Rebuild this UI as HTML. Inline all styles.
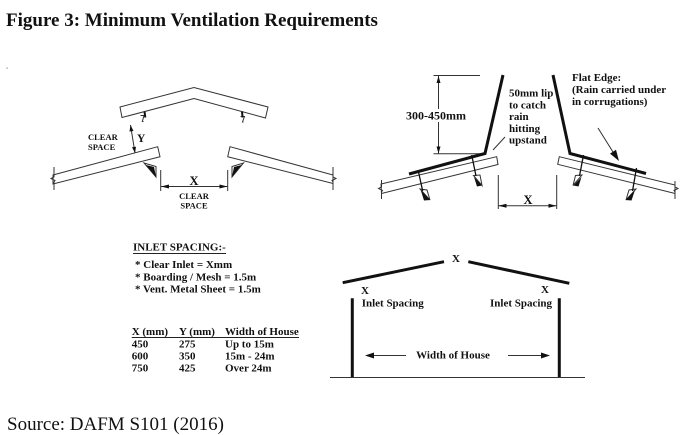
<!DOCTYPE html>
<html>
<head>
<meta charset="utf-8">
<style>
  html, body { margin: 0; padding: 0; background: #fff; }
  svg { display: block; }
  text { font-family: "Liberation Serif", "DejaVu Serif", serif; fill: #111; }
  .b { font-weight: bold; }
</style>
</head>
<body>
<svg width="684" height="435" viewBox="0 0 684 435" xmlns="http://www.w3.org/2000/svg">
  <rect width="684" height="435" fill="#fff"/>

  <!-- Title -->
  <text x="6" y="26" font-size="19" class="b">Figure 3: Minimum Ventilation Requirements</text>
  <rect x="6.5" y="67.5" width="1.2" height="1.2" fill="#888"/>

  <!-- ===== LEFT DIAGRAM ===== -->
  <g stroke="#333" stroke-width="1" fill="none">
    <polygon points="120,107 194,87.5 268,107 265.5,118 194,98.5 122,117.5" fill="#fff"/>
    <polygon points="53,175 157.7,146.7 160,156.7 53,184"/>
    <path d="M54,167 V177 l-3,1.5 l4,2 l-1,1.5 V190"/>
    <polygon points="230,146.7 333,175 333,183.5 227.7,156.7"/>
    <path d="M333,167 V177 l3,1.5 l-4,2 l1,1.5 V190"/>
    <line x1="160.7" y1="170" x2="160.7" y2="191"/>
    <line x1="227.7" y1="170" x2="227.7" y2="191"/>
    <line x1="161" y1="186.5" x2="227.5" y2="186.5"/>
    <line x1="130.5" y1="125" x2="135" y2="153"/>
    <polygon points="144,163 156,166.5 156,177"/>
    <polygon points="243.5,163 232,166.5 232,177"/>
    <path d="M140.5,115.5 H144 L142.3,121.5 H143.5" stroke-width="1"/>
    <path d="M240.5,116.5 H244.5 L242.5,122 H243.5" stroke-width="1"/>
  </g>
  <g stroke="#111" stroke-width="2" fill="none">
    <line x1="144.5" y1="111.5" x2="145.3" y2="117.5"/>
    <line x1="242" y1="111.5" x2="242.6" y2="117.5"/>
  </g>
  <g fill="#111">
    <polygon points="146,165 156,177 154,167"/>
    <polygon points="241.5,165 232,177 234,167"/>
    <polygon points="161,186.5 169,184.5 169,188.5"/>
    <polygon points="227.5,186.5 219.5,184.5 219.5,188.5"/>
    <polygon points="130.5,125 133.5,131 129.5,131.5"/>
    <polygon points="135,153 136,146.7 132,147.3"/>
  </g>
  <text x="194" y="185" font-size="12.5" class="b" text-anchor="middle">X</text>
  <text x="194" y="199" font-size="8.5" class="b" text-anchor="middle">CLEAR</text>
  <text x="194" y="208.5" font-size="8.5" class="b" text-anchor="middle">SPACE</text>
  <text x="137" y="142" font-size="11.5" class="b">Y</text>
  <text x="88" y="140" font-size="8.5" class="b">CLEAR</text>
  <text x="88" y="150" font-size="8.5" class="b">SPACE</text>

  <!-- ===== RIGHT DIAGRAM ===== -->
  <g stroke="#333" stroke-width="1" fill="none">
    <polygon points="381,184 496.7,156.7 498,164.5 381.5,193.5"/>
    <path d="M381.5,180 V187 l-3,1.5 l4,2 l-1,1.5 V199"/>
    <polygon points="559.3,156.7 675,185 675,193.5 557.7,164.3"/>
    <path d="M675,181 V187 l3,1.5 l-4,2 l1,1.5 V199"/>
    <line x1="433.5" y1="75.5" x2="480" y2="75.5"/>
    <line x1="433.5" y1="153.8" x2="483" y2="153.8"/>
    <line x1="438.5" y1="76" x2="438.5" y2="153.5"/>
    <line x1="498.3" y1="175" x2="498.3" y2="209"/>
    <line x1="556.7" y1="175" x2="556.7" y2="209"/>
    <line x1="498.5" y1="205.7" x2="556.5" y2="205.7"/>
    <line x1="505" y1="137" x2="493" y2="150"/>
    <line x1="598" y1="128" x2="613" y2="152"/>
    <polygon points="420,189 427,190 430,200"/>
    <polygon points="473.5,175.5 480,175 482,185.5"/>
    <polygon points="582,175 575.5,175.5 573,185.5"/>
    <polygon points="636,189 629,190 626,200"/>
  </g>
  <g stroke="#111" stroke-width="1.3" fill="none">
    <line x1="418.3" y1="171" x2="422.7" y2="191"/>
    <line x1="471.7" y1="155" x2="476" y2="176"/>
    <line x1="583.5" y1="155" x2="579.5" y2="176"/>
    <line x1="636.5" y1="168" x2="632.5" y2="191"/>
  </g>
  <g stroke="#111" stroke-width="3" fill="none" stroke-linejoin="miter">
    <polyline points="503,75 485,153.5 409,174"/>
    <polyline points="553,75 570,153.5 646,173.5"/>
  </g>
  <g fill="#111">
    <polygon points="420.7,190 430,200 424,200.5"/>
    <polygon points="474,177 482,185.5 477,186.5"/>
    <polygon points="581.5,177 573.5,185.5 578.5,186.5"/>
    <polygon points="635,190 625.7,200 631.5,200.5"/>
    <polygon points="438.5,76 436.5,83 440.5,83"/>
    <polygon points="438.5,153.5 436.5,146.5 440.5,146.5"/>
    <polygon points="498.5,205.7 506.5,203.7 506.5,207.7"/>
    <polygon points="556.5,205.7 548.5,203.7 548.5,207.7"/>
    <polygon points="619,161 616,149.8 610,153.6"/>
  </g>
  <rect x="405" y="109" width="63" height="13" fill="#fff"/>
  <text x="406" y="119.5" font-size="12" class="b">300-450mm</text>
  <text x="528" y="204" font-size="12.5" class="b" text-anchor="middle">X</text>
  <g font-size="11">
    <text x="509" y="96.5" class="b">50mm lip</text>
    <text x="509" y="108.3" class="b">to catch</text>
    <text x="509" y="120.1" class="b">rain</text>
    <text x="509" y="131.9" class="b">hitting</text>
    <text x="509" y="143.7" class="b">upstand</text>
    <text x="572" y="81" class="b">Flat Edge:</text>
    <text x="572" y="93" class="b">(Rain carried under</text>
    <text x="572" y="105" class="b">in corrugations)</text>
  </g>

  <!-- ===== INLET SPACING TEXT ===== -->
  <g font-size="11">
    <text x="133" y="250.5" class="b">INLET SPACING:-</text>
    <text x="135" y="268" class="b">* Clear Inlet = Xmm</text>
    <text x="135" y="280.5" class="b">* Boarding / Mesh = 1.5m</text>
    <text x="135" y="292.5" class="b">* Vent. Metal Sheet = 1.5m</text>
    <text x="131.7" y="335" class="b">X (mm)</text>
    <text x="179" y="335" class="b">Y (mm)</text>
    <text x="225" y="335" class="b">Width of House</text>
    <text x="131.7" y="347.5" class="b">450</text>
    <text x="179" y="347.5" class="b">275</text>
    <text x="225" y="347.5" class="b">Up to 15m</text>
    <text x="131.7" y="359.5" class="b">600</text>
    <text x="179" y="359.5" class="b">350</text>
    <text x="225" y="359.5" class="b">15m - 24m</text>
    <text x="131.7" y="371.5" class="b">750</text>
    <text x="179" y="371.5" class="b">425</text>
    <text x="225" y="371.5" class="b">Over 24m</text>
  </g>
  <g stroke="#222" stroke-width="1">
    <line x1="133" y1="253.5" x2="226" y2="253.5"/>
    <line x1="131.7" y1="337.5" x2="299" y2="337.5"/>
  </g>

  <!-- ===== HOUSE ===== -->
  <g stroke="#111" stroke-width="3" fill="none">
    <line x1="342.7" y1="282.7" x2="444" y2="261.7"/>
    <line x1="468.3" y1="261.7" x2="569.3" y2="283.3"/>
    <line x1="352.3" y1="298.3" x2="352.3" y2="377.5"/>
    <line x1="559.3" y1="298.3" x2="559.3" y2="377.5"/>
  </g>
  <g stroke="#333" stroke-width="1" fill="none">
    <line x1="330" y1="377.5" x2="585" y2="377.5"/>
    <line x1="373" y1="355.5" x2="406" y2="355.5"/>
    <line x1="508" y1="355.5" x2="542" y2="355.5"/>
  </g>
  <g fill="#111">
    <polygon points="365,355.5 374,352.5 374,358.5"/>
    <polygon points="550,355.5 541,352.5 541,358.5"/>
  </g>
  <g font-size="11">
    <text x="456" y="262" class="b" text-anchor="middle">X</text>
    <text x="365" y="294" class="b" text-anchor="middle">X</text>
    <text x="545" y="293" class="b" text-anchor="middle">X</text>
    <text x="361.7" y="306.5" class="b">Inlet Spacing</text>
    <text x="490" y="306.5" class="b">Inlet Spacing</text>
    <text x="453" y="358.5" class="b" text-anchor="middle">Width of House</text>
  </g>

  <!-- Source -->
  <text x="7" y="430" font-size="19">Source: DAFM S101 (2016)</text>
</svg>
</body>
</html>
